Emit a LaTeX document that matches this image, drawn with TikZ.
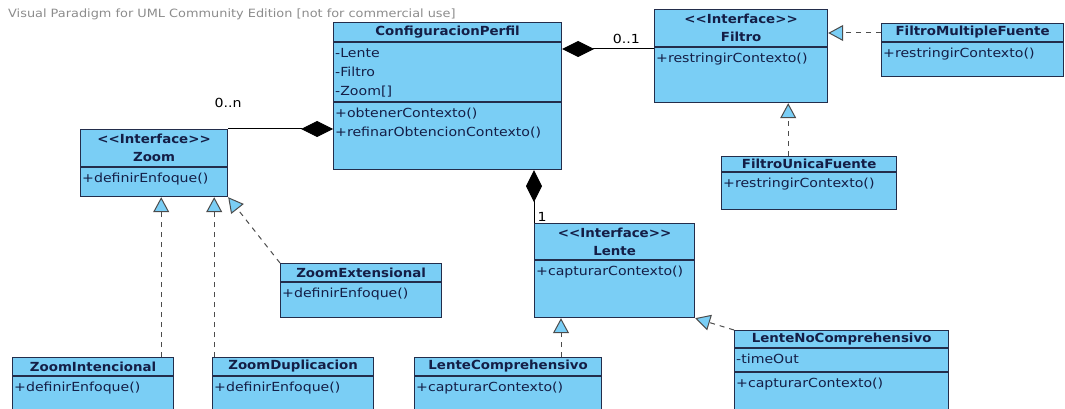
\documentclass[tikz,border=0pt]{standalone}
\usepackage{fontspec}
\setmainfont{DejaVu Sans}[FakeStretch=1.13, BoldFeatures={FakeStretch=1.07}]
\usepackage{tikz}
\usetikzlibrary{arrows.meta, positioning}

\definecolor{clsfill}{RGB}{122,206,245}
\definecolor{clsline}{RGB}{35,45,75}
\definecolor{clstext}{RGB}{20,30,70}
\definecolor{wmgray}{RGB}{140,140,140}

\newcommand{\stereo}[1]{<\kern0pt<#1>\kern0pt>}

\begin{document}
\begin{tikzpicture}[x=1pt, y=-1pt,
  node font=\fontsize{12.5}{19}\selectfont,
  cls/.style={draw=clsline, fill=clsfill, line width=1.2pt, anchor=north west, inner sep=0pt},
  hdr/.style={text=clstext, font=\fontsize{12.5}{18}\selectfont\bfseries, align=center, inner sep=0pt},
  mem/.style={text=clstext, anchor=north west, align=left, inner xsep=2pt, inner ysep=6pt},
  sep/.style={draw=clsline, line width=1.2pt},
  mult/.style={text=black, inner sep=1pt},
  wm/.style={text=wmgray, anchor=west, inner sep=0pt, font=\fontsize{11.4}{13}\selectfont},
  comp/.style={draw=black, line width=1pt, {Diamond[length=32pt, width=16pt]}-},
  gen/.style={draw=black!70, line width=1pt, dash pattern=on 5pt off 5pt,
    -{Triangle[length=15pt, width=16pt, fill=clsfill]}}]

  \useasboundingbox (0,0) rectangle (1065,409);
  \clip (0,0) rectangle (1065,409);

  \node[wm] (wm) at (8,14) {Visual Paradigm for UML Community Edition [not for commercial use]};

  % class boxes
  \node[cls, minimum width=228pt, minimum height=147pt] (cfg) at (333,22) {};
  \node[cls, minimum width=173pt, minimum height=93pt] (filtro) at (654,9) {};
  \node[cls, minimum width=182pt, minimum height=53pt] (fmf) at (881,23) {};
  \node[cls, minimum width=175pt, minimum height=53pt] (fuf) at (721,156) {};
  \node[cls, minimum width=147pt, minimum height=67pt] (zoom) at (80,129) {};
  \node[cls, minimum width=161pt, minimum height=54pt] (zext) at (280,263) {};
  \node[cls, minimum width=161pt, minimum height=70pt] (zint) at (12,357) {};
  \node[cls, minimum width=161pt, minimum height=70pt] (zdup) at (212,357) {};
  \node[cls, minimum width=160pt, minimum height=94pt] (lente) at (534,223) {};
  \node[cls, minimum width=187pt, minimum height=70pt] (lcomp) at (414,357) {};
  \node[cls, minimum width=214pt, minimum height=90pt] (lnc) at (734,330) {};

  % compartments
  \foreach \n/\d in {cfg/20, cfg/80, filtro/38, fmf/19, fuf/16, zoom/38, zext/19,
      zint/19, zdup/19, lente/37, lcomp/19, lnc/18, lnc/42}
    \draw[sep] ([yshift=-\d pt]\n.north west) -- ([yshift=-\d pt]\n.north east);

  % names
  \node[hdr] (cfg-t) at ([yshift=-10pt]cfg.north) {ConfiguracionPerfil};
  \node[hdr] (filtro-t) at ([yshift=-19pt]filtro.north) {\stereo{Interface}\\Filtro};
  \node[hdr] (fmf-t) at ([yshift=-9.5pt]fmf.north) {FiltroMultipleFuente};
  \node[hdr] (fuf-t) at ([yshift=-8pt]fuf.north) {FiltroUnicaFuente};
  \node[hdr] (zoom-t) at ([yshift=-19pt]zoom.north) {\stereo{Interface}\\Zoom};
  \node[hdr] (zext-t) at ([yshift=-9.5pt]zext.north) {ZoomExtensional};
  \node[hdr] (zint-t) at ([yshift=-9.5pt]zint.north) {ZoomIntencional};
  \node[hdr] (zdup-t) at ([yshift=-9.5pt]zdup.north) {ZoomDuplicacion};
  \node[hdr] (lente-t) at ([yshift=-18.5pt]lente.north) {\stereo{Interface}\\Lente};
  \node[hdr] (lcomp-t) at ([yshift=-9.5pt]lcomp.north) {LenteComprehensivo};
  \node[hdr] (lnc-t) at ([yshift=-9pt]lnc.north) {LenteNoComprehensivo};

  % members
  \node[mem] (cfg-a) at ([yshift=-20pt]cfg.north west) {-Lente\\-Filtro\\-Zoom[]};
  \node[mem] (cfg-o) at ([yshift=-80pt]cfg.north west) {+obtenerContexto()\\+refinarObtencionContexto()};
  \node[mem] (filtro-o) at ([yshift=-38pt]filtro.north west) {+restringirContexto()};
  \node[mem] (fmf-o) at ([yshift=-19pt]fmf.north west) {+restringirContexto()};
  \node[mem] (fuf-o) at ([yshift=-16pt]fuf.north west) {+restringirContexto()};
  \node[mem] (zoom-o) at ([yshift=-38pt]zoom.north west) {+definirEnfoque()};
  \node[mem] (zext-o) at ([yshift=-19pt]zext.north west) {+definirEnfoque()};
  \node[mem] (zint-o) at ([yshift=-19pt]zint.north west) {+definirEnfoque()};
  \node[mem] (zdup-o) at ([yshift=-19pt]zdup.north west) {+definirEnfoque()};
  \node[mem] (lente-o) at ([yshift=-37pt]lente.north west) {+capturarContexto()};
  \node[mem] (lcomp-o) at ([yshift=-19pt]lcomp.north west) {+capturarContexto()};
  \node[mem] (lnc-a) at ([yshift=-18pt]lnc.north west) {-timeOut};
  \node[mem] (lnc-o) at ([yshift=-42pt]lnc.north west) {+capturarContexto()};

  % compositions
  \draw[comp] ([yshift=-27pt]cfg.north east) -- ([yshift=-27pt]cfg.north east -| filtro.west)
    node[mult, pos=0.7, above=4pt] {0..1};
  \draw[comp] ([yshift=-107pt]cfg.north west) -- (zoom.north east)
    node[mult, pos=1, above=20pt] {0..n};
  \draw[comp] (lente.north west |- cfg.south) -- (lente.north west)
    node[mult, pos=1, anchor=south west, xshift=2pt] {1};

  % realizations
  \draw[gen] ([yshift=-10pt]fmf.north west) -- ([yshift=-10pt]fmf.north west -| filtro.east);
  \draw[gen] ([xshift=-40pt]filtro.south east |- fuf.north) -- ([xshift=-40pt]filtro.south east);
  \draw[gen] ([xshift=-67pt]zoom.south east |- zint.north) -- ([xshift=-67pt]zoom.south east);
  \draw[gen] ([xshift=-14pt]zoom.south east |- zdup.north) -- ([xshift=-14pt]zoom.south east);
  \draw[gen] (zext.north west) -- (zoom.south east);
  \draw[gen] ([xshift=27pt]lente.south west |- lcomp.north) -- ([xshift=27pt]lente.south west);
  \draw[gen] (lnc.north west) -- (lente.south east);
\end{tikzpicture}
\end{document}
